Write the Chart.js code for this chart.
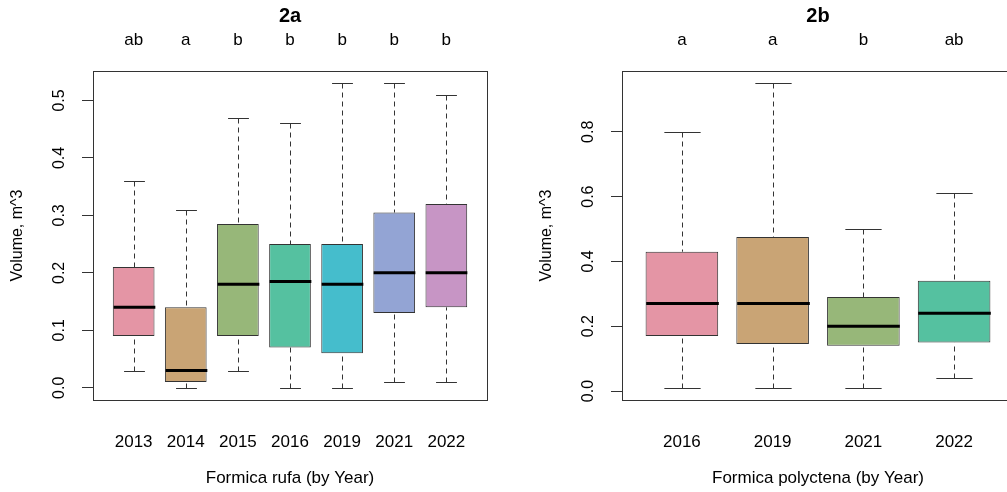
<!DOCTYPE html>
<html>
<head>
<meta charset="utf-8">
<script src="https://cdn.jsdelivr.net/npm/chart.js@4.4.1/dist/chart.umd.min.js"></script>
<style>
  html, body { margin: 0; padding: 0; background: #fff; overflow: hidden; }
  #wrapA { position: absolute; left: 0; top: 0; width: 503px; height: 492px; }
  #wrapB { position: absolute; left: 503px; top: 0; width: 520px; height: 492px; }
</style>
</head>
<body>
<div id="wrapA"><canvas id="chartA" width="503" height="492"></canvas></div>
<div id="wrapB"><canvas id="chartB" width="520" height="492"></canvas></div>
<script>
// 2a - Formica rufa
const rufaYears   = ['2013', '2014', '2015', '2016', '2019', '2021', '2022'];
const rufaMin     = [0.03, 0.00, 0.03, 0.00, 0.00, 0.01, 0.01];
const rufaQ1      = [0.09, 0.01, 0.09, 0.07, 0.06, 0.13, 0.14];
const rufaMedian  = [0.14, 0.03, 0.18, 0.185, 0.18, 0.20, 0.20];
const rufaQ3      = [0.21, 0.14, 0.285, 0.25, 0.25, 0.305, 0.32];
const rufaMax     = [0.36, 0.31, 0.47, 0.46, 0.53, 0.53, 0.51];
const rufaLetters = ['ab', 'a', 'b', 'b', 'b', 'b', 'b'];

// 2b - Formica polyctena
const polyYears   = ['2016', '2019', '2021', '2022'];
const polyMin     = [0.01, 0.01, 0.01, 0.04];
const polyQ1      = [0.17, 0.145, 0.14, 0.15];
const polyMedian  = [0.27, 0.27, 0.20, 0.24];
const polyQ3      = [0.43, 0.475, 0.29, 0.34];
const polyMax     = [0.80, 0.95, 0.50, 0.61];
const polyLetters = ['a', 'a', 'b', 'ab'];

const boxColors = ['#E495A5', '#C9A475', '#97B779', '#55C1A0', '#45BDCC', '#93A4D4', '#C795C5'];
const lineColor = '#333';
const fontName = '"Liberation Sans", Arial, sans-serif';

Chart.defaults.font.family = fontName;
Chart.defaults.color = '#000';

// whiskers, medians, frame and letters on top of the floating bars
function boxExtras(s) {
    return {
        id: 'boxExtras',
        afterDatasetsDraw(chart) {
            const { ctx, scales: { x, y } } = chart;
            const meta = chart.getDatasetMeta(0);
            ctx.save();
            s.labels.forEach((_, i) => {
                const cx = Math.round(x.getPixelForValue(i + 1)) + 0.5;
                const half = meta.data[i].width / 2;
                const cap = half / 2;
                const yMax = Math.round(y.getPixelForValue(s.max[i])) + 0.5;
                const yQ3 = y.getPixelForValue(s.q3[i]);
                const yQ1 = y.getPixelForValue(s.q1[i]);
                const yMin = Math.round(y.getPixelForValue(s.min[i])) + 0.5;

                ctx.strokeStyle = lineColor;
                ctx.lineWidth = 1;
                ctx.setLineDash([5, 4]);
                ctx.beginPath();
                ctx.moveTo(cx, yMax); ctx.lineTo(cx, yQ3);
                ctx.moveTo(cx, yMin); ctx.lineTo(cx, yQ1);
                ctx.stroke();

                ctx.setLineDash([]);
                ctx.beginPath();
                ctx.moveTo(cx - cap, yMax); ctx.lineTo(cx + cap, yMax);
                ctx.moveTo(cx - cap, yMin); ctx.lineTo(cx + cap, yMin);
                ctx.stroke();

                // median
                const yMed = y.getPixelForValue(s.median[i]);
                ctx.strokeStyle = '#000';
                ctx.lineWidth = 3;
                ctx.lineCap = 'butt';
                ctx.beginPath();
                ctx.moveTo(cx - half, yMed); ctx.lineTo(cx + half, yMed);
                ctx.stroke();
            });
            ctx.restore();
        },
        afterDraw(chart) {
            const { ctx, chartArea: a, scales: { x } } = chart;
            ctx.save();
            ctx.strokeStyle = lineColor;
            ctx.lineWidth = 1;
            ctx.strokeRect(Math.round(a.left) + 0.5, Math.round(a.top) + 0.5,
                Math.round(a.right - a.left), Math.round(a.bottom - a.top));

            ctx.fillStyle = '#000';
            ctx.textAlign = 'center';
            ctx.textBaseline = 'alphabetic';
            ctx.font = 'bold 20px ' + fontName;
            ctx.fillText(s.title, (a.left + a.right) / 2, 22);

            ctx.font = '17px ' + fontName;
            s.letters.forEach((t, i) => {
                ctx.fillText(t, x.getPixelForValue(i + 1), 45);
            });
            ctx.restore();
        }
    };
}

function buildBoxChart(canvasId, s) {
    const n = s.labels.length;
    const lo = Math.min(...s.min);
    const hi = Math.max(...s.max);
    const padY = (hi - lo) * 0.04;

    return new Chart(document.getElementById(canvasId), {
        type: 'bar',
        data: {
            datasets: [{
                data: s.labels.map((_, i) => ({ x: i + 1, y: [s.q1[i], s.q3[i]] })),
                backgroundColor: boxColors.slice(0, n),
                borderColor: lineColor,
                borderWidth: 1,
                borderSkipped: false,
                categoryPercentage: 1,
                barPercentage: 0.8
            }]
        },
        options: {
            responsive: false,
            animation: false,
            devicePixelRatio: 1,
            events: [],
            layout: { padding: { top: 71, left: s.padLeft, right: s.padRight, bottom: 0 } },
            plugins: {
                legend: { display: false },
                tooltip: { enabled: false },
                title: { display: false }
            },
            scales: {
                x: {
                    type: 'linear',
                    offset: false,
                    min: 0.5 - n * 0.04,
                    max: n + 0.5 + n * 0.04,
                    grid: { display: false, offset: false },
                    border: { display: false },
                    afterBuildTicks: scale => {
                        scale.ticks = s.labels.map((_, i) => ({ value: i + 1 }));
                    },
                    afterFit: scale => { scale.height = 92; },
                    ticks: {
                        autoSkip: false,
                        maxRotation: 0,
                        padding: 24,
                        font: { size: 17 },
                        callback: (v, i) => s.labels[i]
                    },
                    title: {
                        display: true,
                        text: s.xTitle,
                        font: { size: 17 },
                        padding: { top: 0, bottom: 3 }
                    }
                },
                y: {
                    min: lo - padY,
                    max: hi + padY,
                    afterFit: scale => { scale.width = 93; },
                    grid: { drawOnChartArea: false, drawTicks: true, tickLength: 11, color: lineColor },
                    border: { display: false },
                    ticks: {
                        stepSize: s.step,
                        includeBounds: false,
                        autoSkip: false,
                        minRotation: 90,
                        maxRotation: 90,
                        crossAlign: 'center',
                        padding: 11,
                        font: { size: 16 },
                        callback: v => v.toFixed(1)
                    },
                    title: {
                        display: true,
                        text: 'Volume, m^3',
                        font: { size: 16 },
                        padding: { top: 8, bottom: 0 }
                    }
                }
            }
        },
        plugins: [boxExtras(s)]
    });
}

buildBoxChart('chartA', {
    labels: rufaYears, min: rufaMin, q1: rufaQ1, median: rufaMedian, q3: rufaQ3, max: rufaMax,
    letters: rufaLetters, title: '2a', xTitle: 'Formica rufa (by Year)',
    step: 0.1, padLeft: 0, padRight: 16
});

buildBoxChart('chartB', {
    labels: polyYears, min: polyMin, q1: polyQ1, median: polyMedian, q3: polyQ3, max: polyMax,
    letters: polyLetters, title: '2b', xTitle: 'Formica polyctena (by Year)',
    step: 0.2, padLeft: 26, padRight: 9
});
</script>
</body>
</html>
